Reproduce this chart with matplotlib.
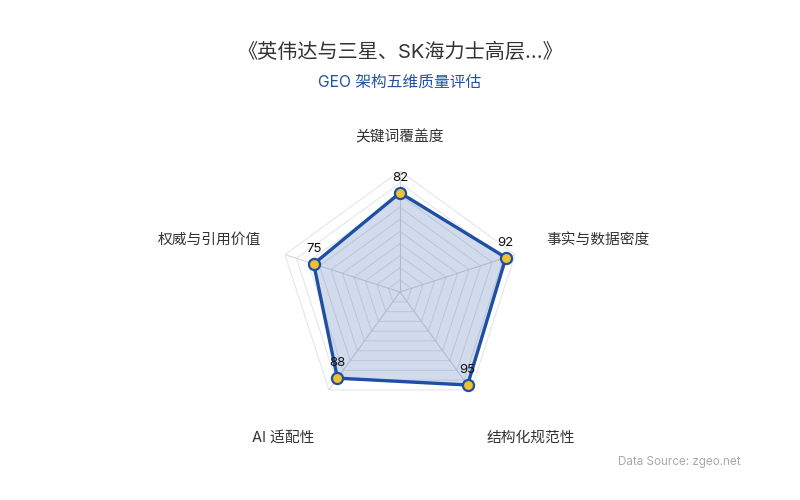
import numpy as np
import matplotlib.pyplot as plt

plt.rcParams['font.family'] = ['Inter', 'Noto Sans CJK SC', 'DejaVu Sans']

# 数据
title = '《英伟达与三星、SK海力士高层...》'
subtitle = 'GEO 架构五维质量评估'
categories = ['关键词覆盖度', '事实与数据密度', '结构化规范性', 'AI 适配性', '权威与引用价值']
scores = [82, 92, 95, 88, 75]
max_score = 100
split_number = 10
source = 'Data Source: zgeo.net'

line_color = '#1f4fa3'
marker_color = '#f2c12e'
grid_color = '#e3e6ec'
text_color = '#333333'

n = len(categories)
angles = np.linspace(0, 2 * np.pi, n, endpoint=False)
angles_closed = np.append(angles, angles[0])
scores_closed = np.append(scores, scores[0])

fig = plt.figure(figsize=(8, 5), dpi=100)
# 雷达图区域 (中心约在 400,292 像素, 半径约 121 像素)
ax = fig.add_axes([0.34875, 0.174, 0.3025, 0.484], projection='polar')
ax.set_theta_offset(np.pi / 2)
ax.set_theta_direction(-1)
ax.set_ylim(0, max_score)
ax.set_xticks([])
ax.set_yticks([])
ax.grid(False)
ax.spines['polar'].set_visible(False)
ax.patch.set_alpha(0)

# 多边形网格
for k in range(1, split_number + 1):
    r = max_score * k / split_number
    ax.plot(angles_closed, [r] * (n + 1), color=grid_color, lw=0.8, zorder=1)
for a in angles:
    ax.plot([a, a], [0, max_score], color='#d3d7de', lw=0.8, zorder=1)

# 数据区域
ax.fill(angles_closed, scores_closed, color=line_color, alpha=0.2, zorder=2, lw=0)
ax.plot(angles_closed, scores_closed, color=line_color, lw=2.4, zorder=3)
ax.plot(angles, scores, 'o', ms=8, mfc=marker_color, mec=line_color, mew=1.6,
        zorder=4, clip_on=False)

for a, v in zip(angles, scores):
    ax.annotate(str(v), (a, v), xytext=(0, 9), textcoords='offset pixels',
                ha='center', va='bottom', fontsize=9.5, color='#111111', zorder=5)

# 维度名称
label_offsets = [(0, -34), (83, -15), (60, 48), (-46, 48), (-76, -15)]
for a, name, (dx, dy) in zip(angles, categories, label_offsets):
    ax.annotate(name, (a, max_score), xytext=(dx, -dy), textcoords='offset pixels',
                ha='center', va='center', fontsize=10.6, color=text_color,
                annotation_clip=False)

fig.text(0.5, 1 - 52 / 500, title, ha='center', va='center', fontsize=14.5, color=text_color)
fig.text(0.5, 1 - 82 / 500, subtitle, ha='center', va='center', fontsize=11.3, color='#2352a0')
fig.text(741 / 800, 1 - 462 / 500, source, ha='right', va='center', fontsize=8.4, color='#aaaaaa')

fig.savefig('out.png', dpi=100)
